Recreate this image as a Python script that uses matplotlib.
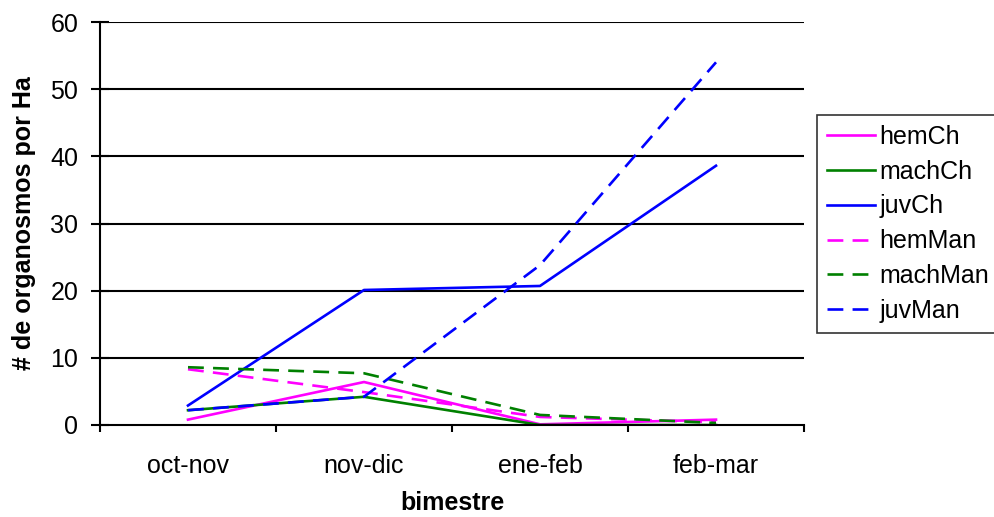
import matplotlib
matplotlib.use("Agg")
import matplotlib.pyplot as plt

plt.rcParams['font.family'] = ['Liberation Sans', 'DejaVu Sans']

bimestres = ["oct-nov", "nov-dic", "ene-feb", "feb-mar"]
hemCh = [0.8, 6.4, 0.1, 0.8]
machCh = [2.2, 4.2, 0.0, 0.0]
juvCh = [2.9, 20.1, 20.7, 38.6]
hemMan = [8.3, 4.9, 1.2, 0.4]
machMan = [8.6, 7.7, 1.5, 0.3]
juvMan = [2.2, 4.2, 23.8, 54.0]

series = [
    ("hemCh", hemCh, "#ff00ff", "-"),
    ("machCh", machCh, "#008000", "-"),
    ("juvCh", juvCh, "#0000ff", "-"),
    ("hemMan", hemMan, "#ff00ff", (0, (6, 3.5))),
    ("machMan", machMan, "#008000", (0, (6, 3.5))),
    ("juvMan", juvMan, "#0000ff", (0, (6, 3.5))),
]

FS = 18

fig = plt.figure(figsize=(9.95, 5.17), dpi=100)
ax = fig.add_axes([100 / 995, 1 - 425 / 517, 704 / 995, 403 / 517])

x = list(range(len(bimestres)))
for name, vals, col, ls in series:
    ax.plot(x, vals, color=col, linestyle=ls, lw=1.9, label=name)

ax.set_xlim(-0.5, 3.5)
ax.set_ylim(0, 60)
ax.set_yticks(range(0, 61, 10))
for yv in range(10, 61, 10):
    ax.axhline(yv, color="black", lw=1.5, zorder=0)

ax.set_xticks([-0.5, 0.5, 1.5, 2.5, 3.5])
ax.set_xticklabels([])
ax.set_xticks(x, minor=True)
ax.set_xticklabels(bimestres, minor=True, fontsize=FS)
ax.tick_params(axis="x", which="minor", length=0, pad=21)
ax.tick_params(axis="x", which="major", direction="out", length=5, width=1.5)
ax.tick_params(axis="y", direction="inout", length=13.5, width=1.5, labelsize=FS, pad=9)

for s in ["top", "right"]:
    ax.spines[s].set_visible(False)
for s in ["left", "bottom"]:
    ax.spines[s].set_linewidth(1.5)

ax.set_xlabel("bimestre", fontsize=FS, fontweight="bold", labelpad=9)
ax.set_ylabel("# de organosmos por Ha", fontsize=FS, fontweight="bold", labelpad=10)

leg = fig.legend(loc="upper left", bbox_to_anchor=(817 / 995, 1 - 115 / 517),
                 fontsize=FS, frameon=True, fancybox=False, edgecolor="black",
                 handlelength=1.9, handletextpad=0.2, borderpad=0.4,
                 labelspacing=0.43, borderaxespad=0)
leg.get_frame().set_linewidth(1.2)

fig.savefig("out.png", dpi=100)
